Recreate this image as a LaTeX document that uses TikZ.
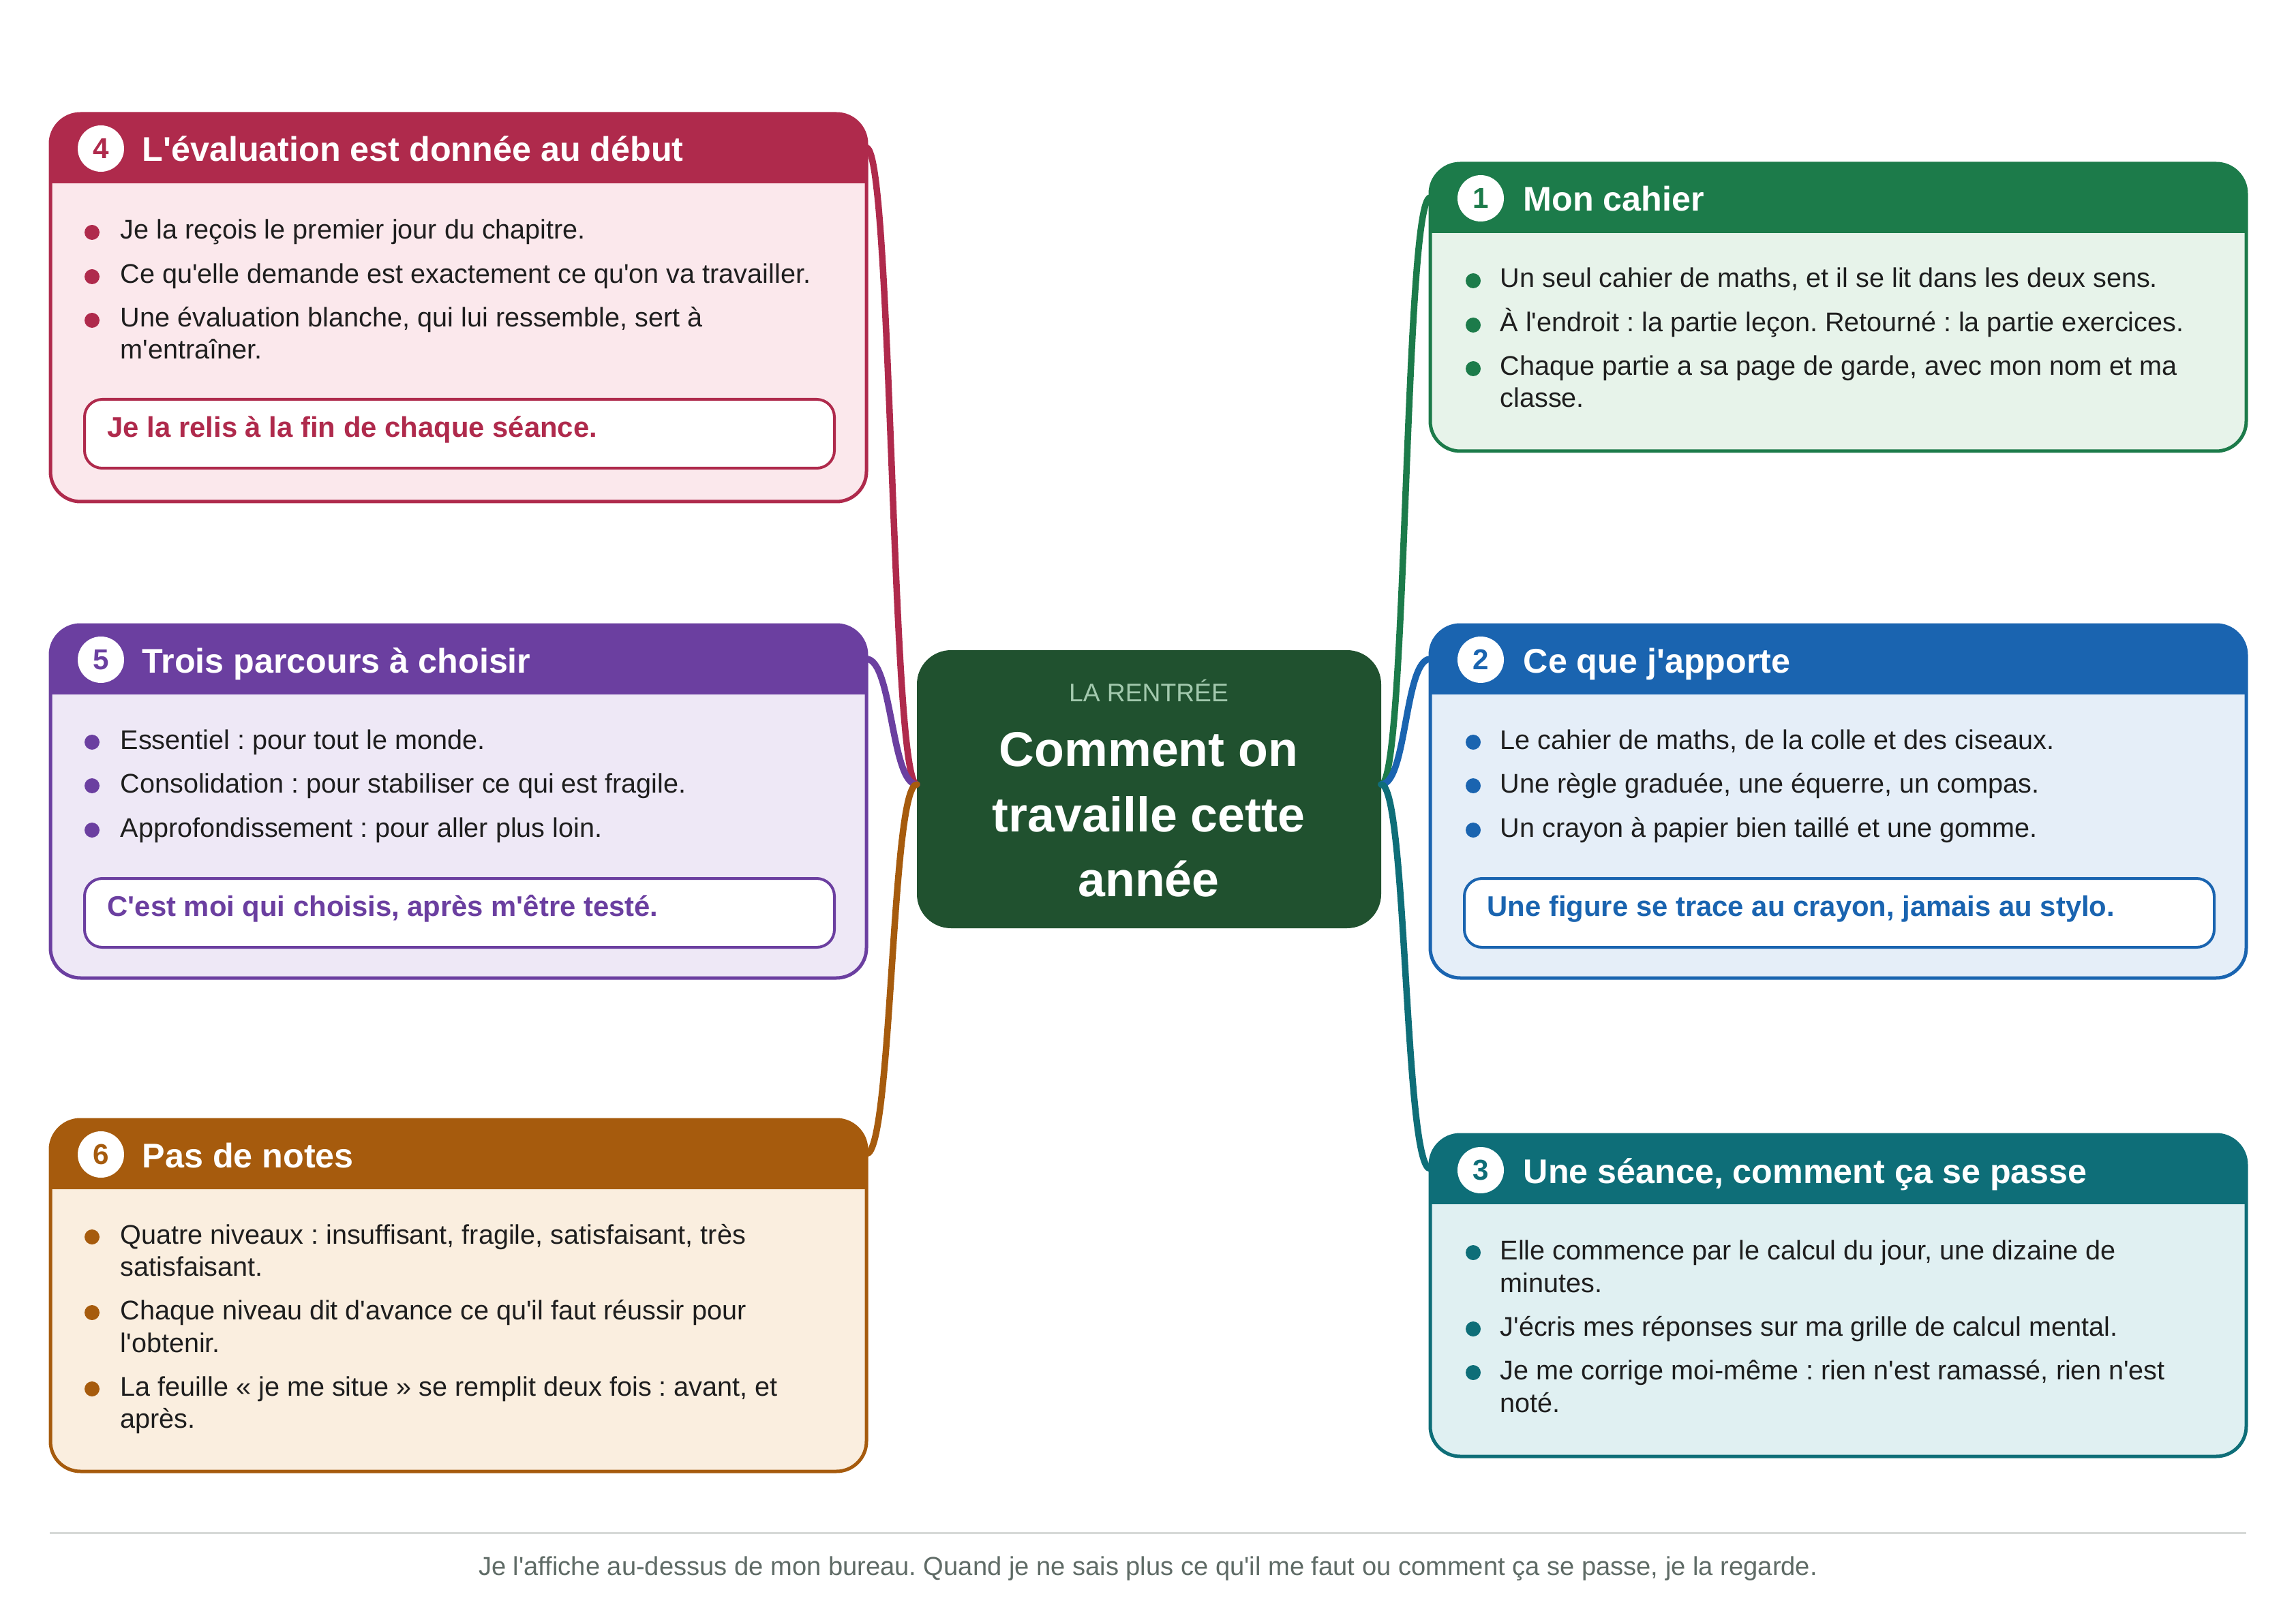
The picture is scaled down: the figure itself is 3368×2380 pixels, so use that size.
\documentclass[tikz,border=0pt]{standalone}
\usepackage{fontspec}
\newfontfamily\lsans{Liberation Sans}
\usetikzlibrary{calc}
\definecolor{cRed}{HTML}{AF2A4C}
\definecolor{cRedL}{HTML}{FBE8EC}
\definecolor{cPur}{HTML}{6B3FA0}
\definecolor{cPurL}{HTML}{EEE8F6}
\definecolor{cOra}{HTML}{A65B0D}
\definecolor{cOraL}{HTML}{FAEEDF}
\definecolor{cGrn}{HTML}{1C7B4A}
\definecolor{cGrnL}{HTML}{E7F3EA}
\definecolor{cBlu}{HTML}{1A64B0}
\definecolor{cBluL}{HTML}{E5EEF8}
\definecolor{cTea}{HTML}{0E6E78}
\definecolor{cTeaL}{HTML}{E0F0F2}
\definecolor{cCen}{HTML}{20512F}
\definecolor{cKick}{HTML}{A3C9AE}
\definecolor{ink}{HTML}{1E1E1E}
\definecolor{footline}{HTML}{D6D9D7}
\definecolor{foottext}{HTML}{5F6B66}
\newcommand\fbody{\lsans\fontsize{11.27}{13.5}\selectfont}
\newcommand\ftitle{\lsans\bfseries\fontsize{14.3}{17}\selectfont}
\newcommand\fcenter{\lsans\bfseries\fontsize{20.4}{24}\selectfont}
\newcommand\fkick{\lsans\fontsize{10.6}{12}\selectfont}
\newcommand\fcall{\lsans\bfseries\fontsize{11.9}{14}\selectfont}
\newcommand\ffoot{\lsans\fontsize{10.85}{12}\selectfont}
\newcommand\fnum{\lsans\bfseries\fontsize{12}{14}\selectfont}
\frenchspacing
\begin{document}
\frenchspacing
\begin{tikzpicture}[x=0.1mm,y=-0.1mm,
  card/.style 2 args={draw=#1, fill=#2, line width=0.5mm, rounded corners=4.4mm,
    minimum width=119.7mm, anchor=north west, inner sep=0pt, outer sep=0pt,
    path picture={\fill[#1, sharp corners] (path picture bounding box.north west) rectangle ([yshift=-10.2mm]path picture bounding box.north east);}},
  callout/.style={draw=#1, fill=white, line width=0.4mm, rounded corners=2.6mm,
    minimum width=110mm, minimum height=10.1mm, anchor=north west, inner sep=0pt},
  conn/.style={draw=#1, line width=0.95mm, line cap=round},
  num/.style={circle, fill=white, minimum size=6.8mm, inner sep=0pt, text=#1, font=\fnum},
  ttl/.style={anchor=base west, inner sep=0pt, text=white, font=\ftitle},
  body/.style={anchor=base west, inner sep=0pt, text=ink, font=\fbody},
  calltxt/.style={anchor=base west, inner sep=0pt, text=#1, font=\fcall},
  dot/.style={circle, fill=#1, minimum size=2.2mm, inner sep=0pt},
]
\useasboundingbox (0,0) rectangle (3368,2380);
\fill[white] (0,0) rectangle (3368,2380);

% central node
\node[fill=cCen, rounded corners=5mm, minimum width=68.1mm, minimum height=40.8mm,
  anchor=north west, inner sep=0pt, outer sep=0pt] (c) at (1345,954) {};
\coordinate (cw) at ([yshift=0.7mm]c.west);
\coordinate (ce) at ([yshift=0.7mm]c.east);

% cards
\node[card={cRed}{cRedL}, minimum height=56.9mm] (b4) at (74,167) {};
\node[card={cPur}{cPurL}, minimum height=51.8mm] (b5) at (74,917) {};
\node[card={cOra}{cOraL}, minimum height=51.6mm] (b6) at (74,1643) {};
\node[card={cGrn}{cGrnL}, minimum height=42.2mm] (b1) at (2098,240) {};
\node[card={cBlu}{cBluL}, minimum height=51.8mm] (b2) at (2098,917) {};
\node[card={cTea}{cTeaL}, minimum height=47.2mm] (b3) at (2098,1665) {};

% connector anchors
\coordinate (a4) at ([yshift=-5mm]b4.north east);
\coordinate (a5) at ([yshift=-5mm]b5.north east);
\coordinate (a6) at ([yshift=-5mm]b6.north east);
\coordinate (a1) at ([yshift=-5mm]b1.north west);
\coordinate (a2) at ([yshift=-5mm]b2.north west);
\coordinate (a3) at ([yshift=-5mm]b3.north west);

% connectors
\draw[conn=cRed] (a4) .. controls +(38,0) and +(-38,0) .. (cw);
\draw[conn=cPur] (a5) .. controls +(38,0) and +(-38,0) .. (cw);
\draw[conn=cOra] (a6) .. controls +(38,0) and +(-38,0) .. (cw);
\draw[conn=cGrn] (ce) .. controls +(38,0) and +(-38,0) .. (a1);
\draw[conn=cBlu] (ce) .. controls +(38,0) and +(-38,0) .. (a2);
\draw[conn=cTea] (ce) .. controls +(38,0) and +(-38,0) .. (a3);

% central texts
\node[anchor=base, inner sep=0pt, text=cKick, font=\fkick] (k0) at (1685,1029) {LA RENTRÉE};
\node[anchor=base, inner sep=0pt, text=white, font=\fcenter] (k1) at (1685,1124) {Comment on};
\node[anchor=base, inner sep=0pt, text=white, font=\fcenter] (k2) at (1685,1220) {travaille cette};
\node[anchor=base, inner sep=0pt, text=white, font=\fcenter] (k3) at (1685,1315) {année};

% ---- card 4
\node[num=cRed] (n4) at (148,218) {4};
\node[ttl] (t4) at (208,237) {L'évaluation est donnée au début};
\node[dot=cRed] (d41) at (135,341) {};
\node[body] (l41) at (176,351) {Je la reçois le premier jour du chapitre.};
\node[dot=cRed] (d42) at (135,406) {};
\node[body] (l42) at (176,416) {Ce qu'elle demande est exactement ce qu'on va travailler.};
\node[dot=cRed] (d43) at (135,470) {};
\node[body] (l43) at (176,480) {Une évaluation blanche, qui lui ressemble, sert à};
\node[body] (l44) at (176,527) {m'entraîner.};
\node[callout=cRed] (q4) at (122,584) {};
\node[calltxt=cRed] (q4t) at (157,642) {Je la relis à la fin de chaque séance.};

% ---- card 5
\node[num=cPur] (n5) at (148,968) {5};
\node[ttl] (t5) at (208,987) {Trois parcours à choisir};
\node[dot=cPur] (d51) at (135,1089) {};
\node[body] (l51) at (176,1099) {Essentiel : pour tout le monde.};
\node[dot=cPur] (d52) at (135,1153) {};
\node[body] (l52) at (176,1163) {Consolidation : pour stabiliser ce qui est fragile.};
\node[dot=cPur] (d53) at (135,1218) {};
\node[body] (l53) at (176,1228) {Approfondissement : pour aller plus loin.};
\node[callout=cPur] (q5) at (122,1287) {};
\node[calltxt=cPur] (q5t) at (157,1344) {C'est moi qui choisis, après m'être testé.};

% ---- card 6
\node[num=cOra] (n6) at (148,1694) {6};
\node[ttl] (t6) at (208,1713) {Pas de notes};
\node[dot=cOra] (d61) at (135,1815) {};
\node[body] (l61) at (176,1825) {Quatre niveaux : insuffisant, fragile, satisfaisant, très};
\node[body] (l62) at (176,1872) {satisfaisant.};
\node[dot=cOra] (d62) at (135,1926) {};
\node[body] (l63) at (176,1936) {Chaque niveau dit d'avance ce qu'il faut réussir pour};
\node[body] (l64) at (176,1984) {l'obtenir.};
\node[dot=cOra] (d63) at (135,2038) {};
\node[body] (l65) at (176,2048) {La feuille « je me situe » se remplit deux fois : avant, et};
\node[body] (l66) at (176,2095) {après.};

% ---- card 1
\node[num=cGrn] (n1) at (2172,291) {1};
\node[ttl] (t1) at (2234,310) {Mon cahier};
\node[dot=cGrn] (d11) at (2161,412) {};
\node[body] (l11) at (2200,422) {Un seul cahier de maths, et il se lit dans les deux sens.};
\node[dot=cGrn] (d12) at (2161,477) {};
\node[body] (l12) at (2200,487) {À l'endroit : la partie leçon. Retourné : la partie exercices.};
\node[dot=cGrn] (d13) at (2161,541) {};
\node[body] (l13) at (2200,551) {Chaque partie a sa page de garde, avec mon nom et ma};
\node[body] (l14) at (2200,598) {classe.};

% ---- card 2
\node[num=cBlu] (n2) at (2172,968) {2};
\node[ttl] (t2) at (2234,987) {Ce que j'apporte};
\node[dot=cBlu] (d21) at (2161,1089) {};
\node[body] (l21) at (2200,1099) {Le cahier de maths, de la colle et des ciseaux.};
\node[dot=cBlu] (d22) at (2161,1153) {};
\node[body] (l22) at (2200,1163) {Une règle graduée, une équerre, un compas.};
\node[dot=cBlu] (d23) at (2161,1218) {};
\node[body] (l23) at (2200,1228) {Un crayon à papier bien taillé et une gomme.};
\node[callout=cBlu] (q2) at (2146,1287) {};
\node[calltxt=cBlu] (q2t) at (2181,1344) {Une figure se trace au crayon, jamais au stylo.};

% ---- card 3
\node[num=cTea] (n3) at (2172,1717) {3};
\node[ttl] (t3) at (2234,1736) {Une séance, comment ça se passe};
\node[dot=cTea] (d31) at (2161,1838) {};
\node[body] (l31) at (2200,1848) {Elle commence par le calcul du jour, une dizaine de};
\node[body] (l32) at (2200,1896) {minutes.};
\node[dot=cTea] (d32) at (2161,1950) {};
\node[body] (l33) at (2200,1960) {J'écris mes réponses sur ma grille de calcul mental.};
\node[dot=cTea] (d33) at (2161,2014) {};
\node[body] (l34) at (2200,2024) {Je me corrige moi-même : rien n'est ramassé, rien n'est};
\node[body] (l35) at (2200,2072) {noté.};

% footer
\coordinate (fl) at (73,2249);
\coordinate (fr) at (3295,2249);
\draw[footline, line width=0.3mm] (fl) -- (fr);
\node[anchor=base, inner sep=0pt, text=foottext, font=\ffoot] (ft) at (1684,2311)
  {Je l'affiche au-dessus de mon bureau. Quand je ne sais plus ce qu'il me faut ou comment ça se passe, je la regarde.};
\end{tikzpicture}
\end{document}
